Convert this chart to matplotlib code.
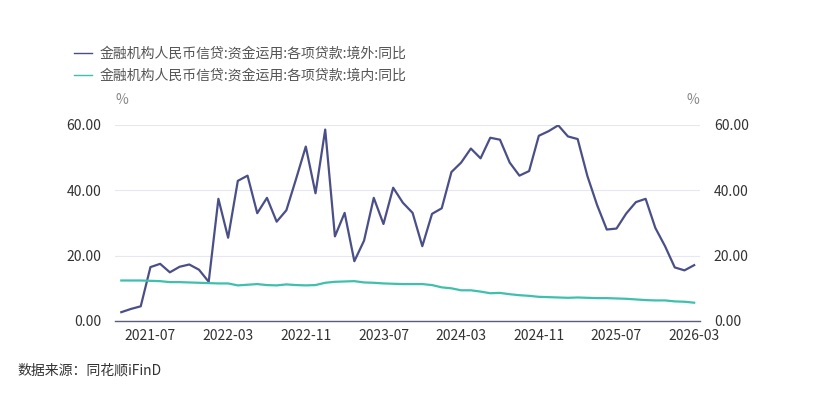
import matplotlib
matplotlib.use("Agg")
import matplotlib.pyplot as plt
import pandas as pd

plt.rcParams['font.family'] = ['Noto Sans CJK SC', 'DejaVu Sans']

# monthly, 2021-04 .. 2026-03
months = pd.date_range("2021-04-01", "2026-03-01", freq="MS").strftime("%Y-%m").tolist()

overseas = [2.7, 3.7, 4.5, 16.5, 17.5, 14.9, 16.6, 17.3, 15.7, 12.0,
            37.4, 25.5, 42.9, 44.5, 33.0, 37.7, 30.4, 33.9, 43.5, 53.4,
            39.1, 58.6, 25.9, 33.1, 18.3, 24.6, 37.7, 29.7, 40.8, 36.2,
            33.1, 22.9, 32.8, 34.5, 45.6, 48.5, 52.8, 49.8, 56.1, 55.5,
            48.5, 44.5, 45.9, 56.7, 58.1, 59.9, 56.5, 55.7, 44.4, 35.5,
            28.0, 28.3, 32.9, 36.4, 37.4, 28.5, 22.9, 16.4, 15.5, 17.1]

domestic = [12.4, 12.4, 12.4, 12.3, 12.2, 11.9, 11.9, 11.8, 11.7, 11.6,
            11.5, 11.5, 10.9, 11.1, 11.3, 11.0, 10.9, 11.2, 11.0, 10.9,
            11.0, 11.7, 12.0, 12.1, 12.2, 11.8, 11.7, 11.5, 11.4, 11.3,
            11.3, 11.3, 11.0, 10.3, 10.0, 9.4, 9.4, 9.0, 8.5, 8.6,
            8.2, 7.9, 7.7, 7.4, 7.3, 7.2, 7.1, 7.2, 7.1, 7.0,
            7.0, 6.9, 6.8, 6.6, 6.4, 6.3, 6.3, 6.0, 5.9, 5.6]

names = ["金融机构人民币信贷:资金运用:各项贷款:境外:同比",
         "金融机构人民币信贷:资金运用:各项贷款:境内:同比"]
colors = ["#4b4f88", "#3ec0ad"]
yticks = [0, 20, 40, 60]

fig = plt.figure(figsize=(8.16, 3.98), dpi=100)
ax = fig.add_axes([115 / 816, 1 - 321 / 398, 585 / 816, 196 / 398])

x = list(range(len(months)))
ax.plot(x, overseas, color=colors[0], lw=1.6, zorder=3)
ax.plot(x, domestic, color=colors[1], lw=1.6, zorder=3)

ax.set_xlim(-0.65, len(months) - 1 + 0.6)
ax.set_ylim(0, 60)
tick_idx = [i for i in x if (i - 3) % 8 == 0]
ax.set_xticks(tick_idx)
ax.set_xticklabels([months[i] for i in tick_idx])
ax.set_yticks(yticks)
ax.set_yticklabels([f"{v:.2f}" for v in yticks])
ax.grid(axis='y', color='#e6e7f0', lw=0.8)
ax.set_axisbelow(True)
for s in ['top', 'left', 'right']:
    ax.spines[s].set_visible(False)
ax.spines['bottom'].set_color('#5a5e78')
ax.spines['bottom'].set_linewidth(1.0)
ax.tick_params(length=0, labelsize=10, colors='#333333', pad=6)
ax.tick_params(axis='y', pad=10)

ax2 = ax.twinx()
ax2.set_ylim(0, 60)
ax2.set_yticks(yticks)
ax2.set_yticklabels([f"{v:.2f}" for v in yticks])
for s in ['top', 'left', 'right', 'bottom']:
    ax2.spines[s].set_visible(False)
ax2.tick_params(length=0, labelsize=10, colors='#333333', pad=10)

fig.text(122 / 816, 1 - 100 / 398, "%", fontsize=10, color='#888888', ha='center', va='center')
fig.text(693 / 816, 1 - 100 / 398, "%", fontsize=10, color='#888888', ha='center', va='center')

handles = [plt.Line2D([], [], color=c, lw=1.0) for c in colors]
fig.legend(handles, names, loc='upper left', bbox_to_anchor=(68 / 816, 1 - 41 / 398),
           frameon=False, fontsize=10, handlelength=1.35, handletextpad=0.55,
           labelspacing=0.6, labelcolor='#555555', borderaxespad=0)

fig.text(17 / 816, 1 - 371 / 398, "数据来源：同花顺iFinD", fontsize=10, color='#333333',
         ha='left', va='center')

fig.savefig("out.png", dpi=100)
